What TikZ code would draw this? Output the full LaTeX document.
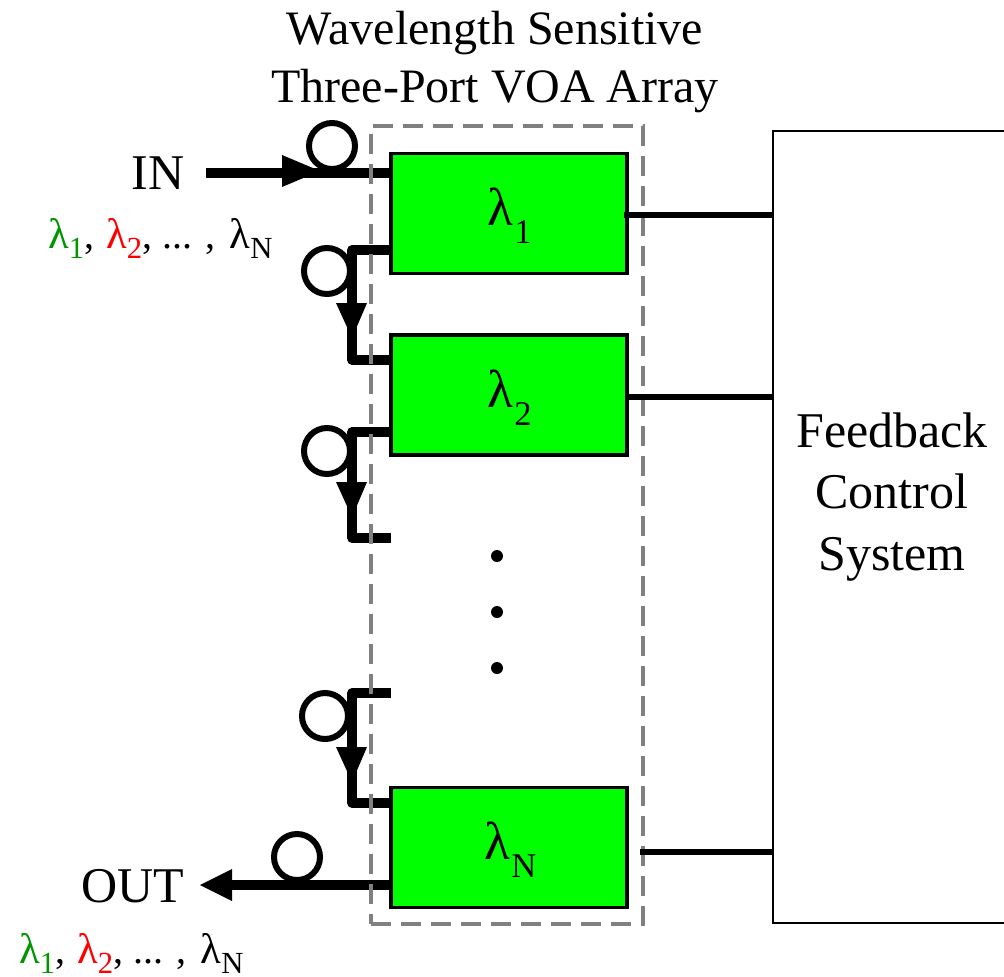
\documentclass[tikz,border=0pt]{standalone}
\usepackage{fontspec}
\setmainfont{Liberation Serif}
\definecolor{lamgreen}{RGB}{0,150,0}
\definecolor{lamred}{RGB}{255,0,0}
\definecolor{boxgreen}{RGB}{0,255,0}
\definecolor{dashgray}{RGB}{128,128,128}
\newcommand{\lam}[1]{{\fontsize{32}{32}\selectfont λ}\raisebox{-7.5pt}{\fontsize{23}{23}\selectfont #1}}
\newcommand{\lamlist}{\fontsize{30}{30}\selectfont\textcolor{lamgreen}{\lam{1}},\ \hspace{1.5pt}\textcolor{lamred}{\lam{2}}, ... ,\ \hspace{3pt}\lam{N}}
\newcommand{\lambig}[1]{{\fontsize{40}{40}\selectfont λ}\kern1pt\raisebox{-13.5pt}{\fontsize{26}{26}\selectfont #1}}
\tikzset{
  voa/.style={draw=black,line width=2.5pt,fill=boxgreen,minimum width=177pt,minimum height=90pt,inner sep=0pt,outer sep=0pt},
  fiber/.style={line width=7.2pt,line join=round},
  coil/.style={draw=black,line width=4.5pt,circle,minimum size=34.5pt,inner sep=0pt,outer sep=0pt},
  head/.style={fill=black},
  ctrl/.style={line width=4.2pt},
  txt/.style={inner sep=0pt,font=\fontsize{37.5}{37.5}\selectfont},
  ttl/.style={inner sep=0pt,font=\fontsize{36}{36}\selectfont},
  dotn/.style={circle,fill=black,minimum size=9pt,inner sep=0pt},
  lbl/.style={inner sep=0pt,anchor=base west}
}
\begin{document}
\begin{tikzpicture}[x=0.75pt,y=-0.75pt]
\useasboundingbox (0,0) rectangle (1004,976);
\clip (0,0) rectangle (1004,976);
% VOA boxes
\node[voa] (b1) at (509,213.5) {};
\node[voa] (b2) at (509,395) {};
\node[voa] (bN) at (509,847.5) {};
\node[lbl] (t1) at (487,225) {\lambig{1}};
\node[lbl] (t2) at (487,407) {\lambig{2}};
\node[lbl] (tN) at (484,859) {\lambig{N}};
% feedback box
\node[draw=black,line width=1.6pt,minimum width=240pt,minimum height=594pt,inner sep=0pt,outer sep=0pt] (fb) at (933,527) {};
\node[txt,align=center,anchor=center] (fbt) at (892,497) {Feedback\\[8.3pt]Control\\[8.3pt]System};
% free ends and corners
\coordinate (inS) at (206,173);
\coordinate (outE) at (231,885);
\coordinate (s3) at (391,538);
\coordinate (s4) at (391,693);
\coordinate (b1in) at (391,173);
\coordinate (b1out) at (391,250);
\coordinate (b2in) at (391,360);
\coordinate (b2out) at (391,432);
\coordinate (bNin) at (391,803);
\coordinate (bNout) at (391,885);
\coordinate (k1) at (624,215);
\coordinate (k2) at (627,397);
\coordinate (kN) at (640,852);
% fibres
\draw[fiber] (inS) -- (b1in);
\draw[fiber] (b1out) -- (352,250) -- (352,360) -- (b2in);
\draw[fiber] (b2out) -- (352,432) -- (352,538) -- (s3);
\draw[fiber] (s4) -- (352,693) -- (352,803) -- (bNin);
\draw[fiber] (bNout) -- (outE);
% arrowheads
\fill[head] (282,155) -- (320,171) -- (282,187) -- cycle;
\fill[head] (336,303) -- (367,303) -- (352,338) -- cycle;
\fill[head] (336,482) -- (367,482) -- (352,517) -- cycle;
\fill[head] (336,747) -- (367,747) -- (352,782) -- cycle;
\fill[head] (232,869) -- (232,901) -- (200,885) -- cycle;
% coils
\node[coil] (c1) at (332,146) {};
\node[coil] (c2) at (327,271) {};
\node[coil] (c3) at (327,451) {};
\node[coil] (c4) at (325,716) {};
\node[coil] (c5) at (297,857) {};
% dashed array outline
\node[draw=dashgray,line width=3pt,dash pattern=on 15pt off 7.5pt,minimum width=204pt,minimum height=598.5pt,inner sep=0pt,outer sep=0pt] (arr) at (507,524.5) {};
% control lines
\draw[ctrl] (k1) -- (fb.west |- k1);
\draw[ctrl] (k2) -- (fb.west |- k2);
\draw[ctrl] (kN) -- (fb.west |- kN);
% dots
\node[dotn] (d1) at (497,556) {};
\node[dotn] (d2) at (497,612) {};
\node[dotn] (d3) at (497,668) {};
% labels
\node[ttl,align=center] (title) at (495,62) {Wavelength Sensitive\\[7pt]Three-Port VOA Array};
\node[txt] (inl) at (158,173) {IN};
\node[txt] (outl) at (133,886) {OUT};
\node[lbl] (l1) at (48,248) {\lamlist};
\node[lbl] (l2) at (19,963) {\lamlist};
\end{tikzpicture}
\end{document}
